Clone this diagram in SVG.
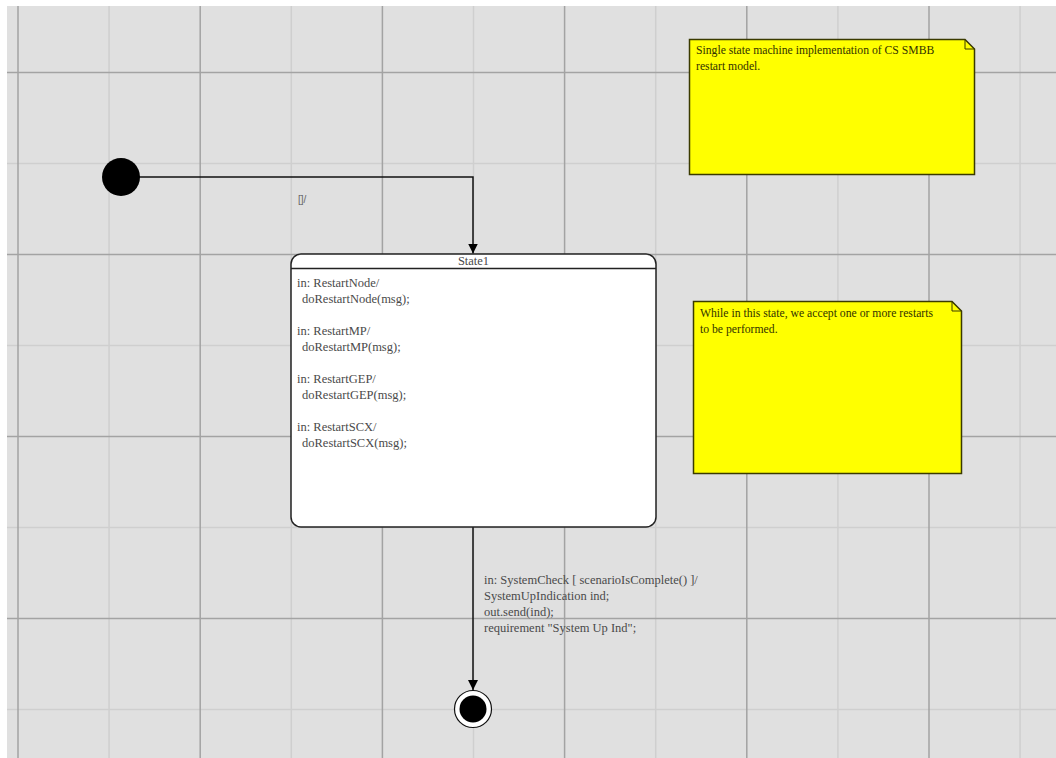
<svg xmlns="http://www.w3.org/2000/svg" width="1056" height="758" viewBox="0 0 1056 758">
<style>
.minor{stroke:#cfcfcf;stroke-width:1.5;fill:none}
.major{stroke:#a3a3a3;stroke-width:1.5;fill:none}
.edge{stroke:#111;stroke-width:1.5;fill:none}
.st{font-family:"Liberation Serif","Times New Roman",serif;font-size:12.5px;fill:#4a4a4a}
.nt{font-family:"Liberation Serif","Times New Roman",serif;font-size:11.7px;fill:#333300}
.lbl{font-family:"Liberation Sans",Arial,sans-serif;font-size:10px;fill:#666}
.note{fill:#ffff00;stroke:#3a3a00;stroke-width:1.5}
</style>
<defs>
<marker id="arr" viewBox="0 0 10 10" refX="10" refY="5" markerWidth="10" markerHeight="10" markerUnits="userSpaceOnUse" orient="auto">
<path d="M0,0 L10,5 L0,10 Z" fill="#000"/>
</marker>
</defs>
<rect x="0" y="0" width="1056" height="758" fill="#ffffff"/>
<rect x="7" y="6" width="1049" height="752" fill="#e0e0e0"/>
<g id="grid">
<path class="minor" d="M109.1,6V758M291.3,6V758M473.5,6V758M655.7,6V758M837.9,6V758M1020.1,6V758"/>
<path class="minor" d="M7,163.5H1056M7,345.5H1056M7,527.5H1056M7,709.5H1056"/>
<path class="major" d="M18,6V758M200.2,6V758M382.4,6V758M564.6,6V758M746.8,6V758M929,6V758"/>
<path class="major" d="M7,72.5H1056M7,254.5H1056M7,436.5H1056M7,618.5H1056"/>
</g>
<g id="connectors">
<path class="edge" d="M121,177H473V253.5" marker-end="url(#arr)"/>
<text class="lbl" x="298" y="203">[]/</text>
<path class="edge" d="M473,527V690" marker-end="url(#arr)"/>
<text class="st" x="484" y="584">in: SystemCheck [ scenarioIsComplete() ]/</text>
<text class="st" x="484" y="600">SystemUpIndication  ind;</text>
<text class="st" x="484" y="616">out.send(ind);</text>
<text class="st" x="484" y="632">requirement "System Up Ind";</text>
</g>
<g id="initial">
<circle cx="121" cy="177" r="19" fill="#000"/>
</g>
<g id="state1">
<rect x="291" y="254" width="365" height="273" rx="10" ry="10" fill="#fff" stroke="#222" stroke-width="1.5"/>
<path d="M291,268.5H656" stroke="#222" stroke-width="1.5"/>
<text class="st" x="473.5" y="265" text-anchor="middle" font-size="10.5">State1</text>
<text class="st" x="297" y="287">in: RestartNode/</text>
<text class="st" x="302" y="303">doRestartNode(msg);</text>
<text class="st" x="297" y="335">in: RestartMP/</text>
<text class="st" x="302" y="351">doRestartMP(msg);</text>
<text class="st" x="297" y="383">in: RestartGEP/</text>
<text class="st" x="302" y="399">doRestartGEP(msg);</text>
<text class="st" x="297" y="431">in: RestartSCX/</text>
<text class="st" x="302" y="447">doRestartSCX(msg);</text>
</g>
<g id="final">
<circle cx="473" cy="709" r="18.5" fill="#fff" stroke="#111" stroke-width="1.2"/>
<circle cx="473" cy="709" r="13.5" fill="#000"/>
</g>
<g id="note1">
<path class="note" d="M689.5,39.5H965L974.5,49V174.5H689.5Z"/>
<path d="M965,39.5V49H974.5" fill="none" stroke="#3a3a00" stroke-width="1"/>
<text class="nt" x="696" y="54">Single state machine implementation of CS SMBB</text>
<text class="nt" x="696" y="70">restart model.</text>
</g>
<g id="note2">
<path class="note" d="M693.5,301.5H952L961.5,311V473.5H693.5Z"/>
<path d="M952,301.5V311H961.5" fill="none" stroke="#3a3a00" stroke-width="1"/>
<text class="nt" x="700" y="317">While in this state, we accept one or more restarts</text>
<text class="nt" x="700" y="333">to be performed.</text>
</g>
</svg>
